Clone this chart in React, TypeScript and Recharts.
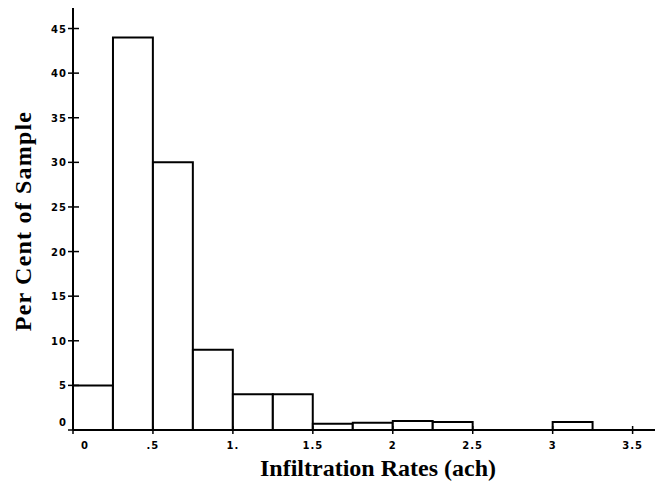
import { BarChart, Bar, XAxis, YAxis } from 'recharts';

// histogram bins, 0.25 ach wide
const binWidth = 0.25;
const binLow = [0, 0.25, 0.5, 0.75, 1, 1.25, 1.5, 1.75, 2, 2.25, 2.5, 2.75, 3, 3.25];
const percent = [5, 44, 30, 9, 4, 4, 0.7, 0.8, 1, 0.9, 0, 0, 0.9, 0];

const xTicks = [0, 0.5, 1, 1.5, 2, 2.5, 3, 3.5];
const xTickLabels = ['0', '.5', '1.', '1.5', '2', '2.5', '3', '3.5'];
const yTicks = [0, 5, 10, 15, 20, 25, 30, 35, 40, 45];

const data = binLow.map((low, i) => ({ mid: low + binWidth / 2, pct: percent[i] }));

const tickFont = { fontFamily: 'DejaVu Sans', fontWeight: 700, fontSize: 10, letterSpacing: 1 };

function XTick(props: any) {
  const { x, y, payload } = props;
  const i = xTicks.indexOf(payload.value);
  return (
    <g>
      <line x1={x} x2={x} y1={y - 4} y2={y + 4} stroke="#000" strokeWidth={1.5} />
      <text x={x} y={y + 19} dx={payload.value === 0 ? 12 : 0} textAnchor="middle" fill="#000" style={tickFont}>
        {xTickLabels[i]}
      </text>
    </g>
  );
}

function YTick(props: any) {
  const { x, y, payload } = props;
  return (
    <g>
      <line x1={x - 5} x2={x + 6} y1={y} y2={y} stroke="#000" strokeWidth={1.5} />
      <text x={x - 6} y={y + 4} dy={payload.value === 0 ? -8 : 0} textAnchor="end" fill="#000" style={tickFont}>
        {payload.value}
      </text>
    </g>
  );
}

const titleFont = { fontFamily: 'Liberation Serif', fontWeight: 700, fill: '#000' };

export default function App() {
  return (
    <div style={{ position: 'absolute', left: 0, top: 0, background: '#fff' }}>
      <BarChart
        width={658}
        height={483}
        data={data}
        barCategoryGap={0}
        barGap={0}
        margin={{ top: 8, right: 3, bottom: 0, left: 0 }}
      >
        <XAxis
          dataKey="mid"
          type="number"
          domain={[0, 3.64]}
          ticks={xTicks}
          tick={<XTick />}
          tickLine={false}
          tickSize={0}
          tickMargin={0}
          height={53}
          axisLine={{ stroke: '#000', strokeWidth: 2 }}
          interval={0}
          allowDataOverflow
          label={{
            content: (p: any) => (
              <text
                x={p.viewBox.x + p.viewBox.width / 2 + 14}
                y={p.viewBox.y + 46}
                textAnchor="middle"
                fontSize={24}
                style={titleFont}
              >
                Infiltration Rates (ach)
              </text>
            ),
          }}
        />
        <YAxis
          type="number"
          domain={[0, 47.3]}
          ticks={yTicks}
          tick={<YTick />}
          tickLine={false}
          tickSize={0}
          tickMargin={0}
          width={73}
          interval={0}
          axisLine={{ stroke: '#000', strokeWidth: 2 }}
          label={{
            content: (p: any) => {
              const cx = p.viewBox.x + 31;
              const cy = p.viewBox.y + p.viewBox.height / 2 + 2;
              return (
                <text
                  x={cx}
                  y={cy}
                  transform={`rotate(-90 ${cx} ${cy})`}
                  textAnchor="middle"
                  fontSize={24}
                  letterSpacing={1.2}
                  style={titleFont}
                >
                  Per Cent of Sample
                </text>
              );
            },
          }}
        />
        <Bar dataKey="pct" barSize={39.9} fill="#fff" stroke="#000" strokeWidth={2} isAnimationActive={false} />
      </BarChart>
    </div>
  );
}
